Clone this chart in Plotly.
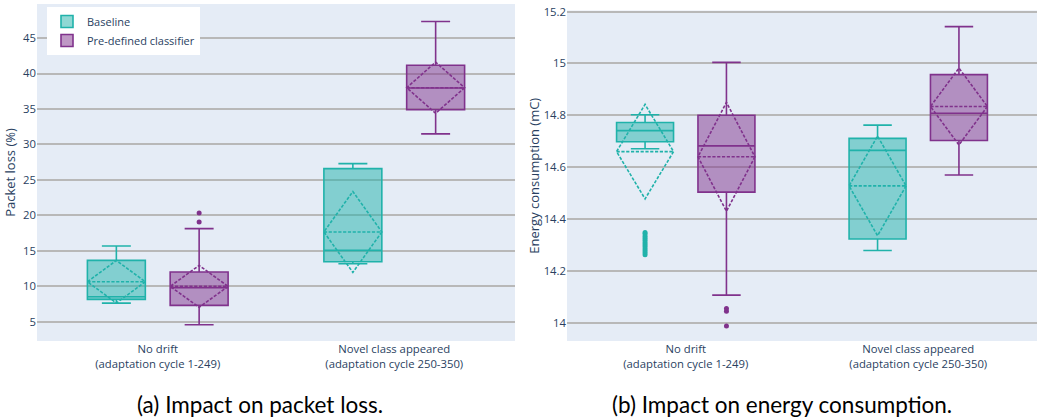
import plotly.graph_objects as go

categories = ["No drift<br>(adaptation cycle 1-249)",
              "Novel class appeared<br>(adaptation cycle 250-350)"]
series_names = ["Baseline", "Pre-defined classifier"]

# Packet loss (%) statistics per category
pl_base_q1 = [8.16, 13.47]
pl_base_median = [8.53, 15.08]
pl_base_q3 = [13.67, 26.6]
pl_base_lower = [7.64, 13.19]
pl_base_upper = [15.69, 27.3]
pl_base_mean = [10.65, 17.67]
pl_base_sd = [3.0, 5.7]
pl_base_outliers = None

pl_pred_q1 = [7.32, 34.9]
pl_pred_median = [9.8, 37.97]
pl_pred_q3 = [12.02, 41.16]
pl_pred_lower = [4.58, 31.5]
pl_pred_upper = [18.14, 47.33]
pl_pred_mean = [10.0, 38.0]
pl_pred_sd = [2.95, 3.6]
pl_pred_outliers = [[19.08, 20.35], []]

# Energy consumption (mC) statistics per category
en_base_q1 = [14.698, 14.323]
en_base_median = [14.741, 14.665]
en_base_q3 = [14.772, 14.711]
en_base_lower = [14.671, 14.279]
en_base_upper = [14.802, 14.762]
en_base_mean = [14.66, 14.528]
en_base_sd = [0.182, 0.192]
en_base_outliers = [[14.262, 14.27, 14.278, 14.286, 14.294, 14.302, 14.31,
                     14.318, 14.326, 14.334, 14.342, 14.348], []]

en_pred_q1 = [14.504, 14.703]
en_pred_median = [14.682, 14.808]
en_pred_q3 = [14.80, 14.957]
en_pred_lower = [14.107, 14.57]
en_pred_upper = [15.004, 15.142]
en_pred_mean = [14.64, 14.834]
en_pred_sd = [0.21, 0.148]
en_pred_outliers = [[13.988, 14.045, 14.055], []]

colors = ["rgb(32,178,170)", "rgb(128,50,140)"]

fig = go.Figure()

def add_box(name, color, q1, med, q3, lo, up, mean, sd, outl, xa, ya, show):
    kw = {}
    if outl is not None:
        kw["y"] = outl
    fig.add_trace(go.Box(
        name=name, legendgroup=name, showlegend=show,
        x=categories,
        q1=q1, median=med, q3=q3, lowerfence=lo, upperfence=up,
        mean=mean, sd=sd, boxmean="sd", boxpoints="outliers",
        marker=dict(color=color, size=5),
        line=dict(color=color, width=1.6),
        fillcolor=color.replace("rgb", "rgba").replace(")", ",0.5)"),
        alignmentgroup=xa, offsetgroup=name,
        xaxis=xa, yaxis=ya, **kw,
    ))

add_box(series_names[0], colors[0], pl_base_q1, pl_base_median, pl_base_q3,
        pl_base_lower, pl_base_upper, pl_base_mean, pl_base_sd, pl_base_outliers, "x", "y", True)
add_box(series_names[1], colors[1], pl_pred_q1, pl_pred_median, pl_pred_q3,
        pl_pred_lower, pl_pred_upper, pl_pred_mean, pl_pred_sd, pl_pred_outliers, "x", "y", True)
add_box(series_names[0], colors[0], en_base_q1, en_base_median, en_base_q3,
        en_base_lower, en_base_upper, en_base_mean, en_base_sd, en_base_outliers, "x2", "y2", False)
add_box(series_names[1], colors[1], en_pred_q1, en_pred_median, en_pred_q3,
        en_pred_lower, en_pred_upper, en_pred_mean, en_pred_sd, en_pred_outliers, "x2", "y2", False)

W, H = 1041, 419

def px_x(v):
    return v / W

def px_y(v):
    return 1 - v / H

grid = dict(showgrid=True, gridcolor="#b8b8b8", gridwidth=1.5, zeroline=False, automargin=False)
tickfont = dict(family="Open Sans, sans-serif", size=11.3, color="#2a3f5f")

fig.update_layout(
    width=W, height=H,
    template="plotly",
    boxmode="group",
    margin=dict(l=0, r=0, t=0, b=0, autoexpand=False),
    paper_bgcolor="white",
    plot_bgcolor="#e5ecf6",
    font=dict(family="Open Sans, sans-serif", size=12, color="#2a3f5f"),
    xaxis=dict(domain=[px_x(37), px_x(515)], anchor="y", tickfont=tickfont, showgrid=False,
               automargin=False),
    yaxis=dict(domain=[px_y(341), px_y(4)], anchor="x", range=[2.3, 49.8],
               dtick=5, tickfont=tickfont,
               title=dict(text="Packet loss (%)", font=dict(size=13), standoff=4), **grid),
    xaxis2=dict(domain=[px_x(567), px_x(1037)], anchor="y2", tickfont=tickfont, showgrid=False,
                automargin=False),
    yaxis2=dict(domain=[px_y(341), px_y(10.5)], anchor="x2", range=[13.93, 15.204],
                dtick=0.2, tickfont=tickfont,
                title=dict(text="Energy consumption (mC)", font=dict(size=13), standoff=1), **grid),
    legend=dict(x=px_x(47), y=px_y(7), xanchor="left", yanchor="top",
                bgcolor="white", font=dict(size=11), tracegroupgap=0),
    annotations=[
        dict(text="(a) Impact on packet loss.", x=px_x(260), y=px_y(404), xref="paper", yref="paper",
             xanchor="center", yanchor="middle", showarrow=False,
             font=dict(family="Lato, sans-serif", size=22.5, color="black")),
        dict(text="(b) Impact on energy consumption.", x=px_x(782), y=px_y(404), xref="paper", yref="paper",
             xanchor="center", yanchor="middle", showarrow=False,
             font=dict(family="Lato, sans-serif", size=22.5, color="black")),
    ],
)

# remove the browser's default 8px body margin so the figure fills the window exactly
fig.write_html("out.html", config={"displayModeBar": False},
               post_script="document.body.style.margin='0px';")
